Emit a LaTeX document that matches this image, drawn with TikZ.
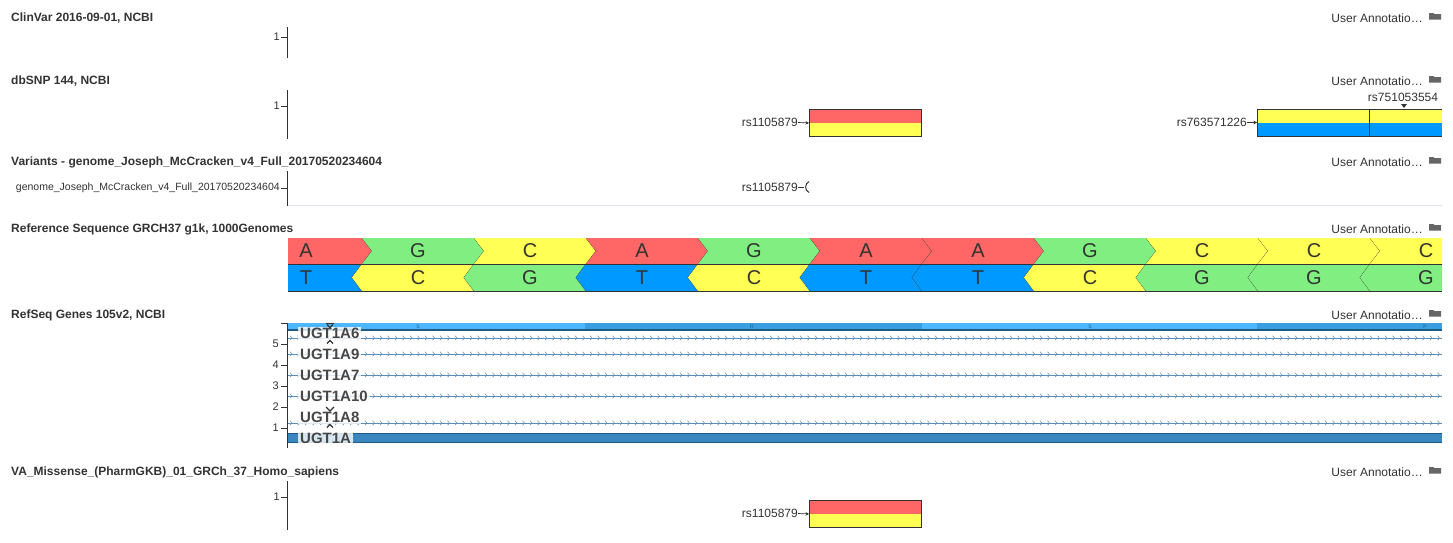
\documentclass[tikz,border=0pt]{standalone}
\usepackage{fontspec}
\setmainfont{Liberation Sans}
\usetikzlibrary{positioning,arrows.meta}

\definecolor{baseA}{HTML}{FF6666}
\definecolor{baseG}{HTML}{80EE80}
\definecolor{baseC}{HTML}{FFFF55}
\definecolor{baseT}{HTML}{0099FF}
\definecolor{inktext}{HTML}{333333}
\definecolor{geneline}{HTML}{5B8DB8}
\definecolor{genelight}{HTML}{4DB8FF}
\definecolor{genemid}{HTML}{3A9FE0}
\definecolor{genedark}{HTML}{3A87BF}
\definecolor{generim}{HTML}{1F5A85}
\definecolor{sepline}{HTML}{E2E2F0}
\definecolor{foldergray}{HTML}{666666}

\begin{document}
\begin{tikzpicture}[x=1pt,y=-1pt,
  tracktitle/.style={anchor=west, inner sep=0pt, font=\bfseries\fontsize{12}{14}\selectfont, text=inktext},
  annolabel/.style={anchor=east, inner sep=0pt, font=\fontsize{12}{14}\selectfont, text=inktext},
  axisline/.style={draw=inktext, line width=1pt},
  axnum/.style={anchor=east, inner sep=0pt, font=\fontsize{11}{13}\selectfont, text=inktext},
  snplabel/.style={anchor=east, inner sep=0pt, font=\fontsize{12}{14}\selectfont, text=inktext},
  snparrow/.style={draw=inktext, line width=0.7pt, -{Stealth[length=3.5pt,width=3.5pt]}},
  snpbox/.style 2 args={draw=inktext, line width=0.9pt, inner sep=0pt, anchor=north west,
    minimum width=112pt, minimum height=27pt,
    path picture={\fill[#1] (path picture bounding box.north west) rectangle (path picture bounding box.east);
                  \fill[#2] (path picture bounding box.west) rectangle (path picture bounding box.south east);}},
  baseletter/.style={font=\fontsize{20}{20}\selectfont, text=inktext, inner sep=0pt},
  genelabel/.style={anchor=west, inner xsep=2pt, inner ysep=1pt, font=\bfseries\fontsize{15}{15}\selectfont,
    text=black!72, fill=white, fill opacity=0.8, text opacity=1},
  marker/.style={draw=inktext, line width=1.3pt},
]

\fill[white] (0,0) rectangle (1453,542);
\useasboundingbox (0,0) rectangle (1453,542);

% User annotation links on the right
\foreach \y/\n in {18/uaclin,81/uasnp,162/uavar,229/uaref,315/uagene,472/uava}{
  \node[annolabel] (\n) at (1423,\y) {User Annotatio…};
  \fill[foldergray] (1429,\y+1.5) -- (1429,\y-5) -- (1433.5,\y-5) -- (1434.5,\y-3.8) -- (1441,\y-3.8) -- (1441,\y+1.5) -- cycle;
}

% ClinVar track
\node[tracktitle] (clinvar) at (11,18) {ClinVar 2016-09-01, NCBI};
\draw[axisline] (287,27) -- (287,58);
\draw[axisline] (281,37) -- (287,37);
\node[axnum] (clinvar1) at (280,37) {1};

% dbSNP track
\node[tracktitle] (dbsnp) at (11,81) {dbSNP 144, NCBI};
\draw[axisline] (287,90) -- (287,139);
\draw[axisline] (281,106) -- (287,106);
\node[axnum] (dbsnp1) at (280,106) {1};
\node[snpbox={baseA}{baseC}] (snpA) at (809,109) {};
\node[snplabel] (rs1105) at (798,122.5) {rs1105879};
\draw[snparrow] (rs1105.east) -- (snpA.west);
\fill[baseC] (1257,109) rectangle (1442,122.5);
\fill[baseT] (1257,122.5) rectangle (1442,136);
\draw[inktext, line width=0.9pt] (1442,109) -- (1257,109) -- (1257,136) -- (1442,136);
\draw[inktext, line width=0.9pt] (1369,109) -- (1369,136);
\coordinate (snpB) at (1257,122.5);
\node[snplabel] (rs7635) at (1247,122.5) {rs763571226};
\draw[snparrow] (rs7635.east) -- (snpB);
\node[snplabel, anchor=center] (rs7510) at (1403,97) {rs751053554};
\fill[inktext] (1401,104) -- (1407,104) -- (1404,108) -- cycle;

% Variants track
\node[tracktitle] (variants) at (11,162) {Variants - genome\_Joseph\_McCracken\_v4\_Full\_20170520234604};
\draw[axisline] (287,171) -- (287,206);
\draw[axisline] (281,188) -- (287,188);
\node[axnum, font=\fontsize{10.5}{12}\selectfont] (varsample) at (280,188) {genome\_Joseph\_McCracken\_v4\_Full\_20170520234604};
\draw[sepline, line width=1pt] (288,205.5) -- (1442,205.5);
\node[snplabel] (varrs) at (798,187) {rs1105879};
\draw[inktext, line width=0.8pt] (varrs.east) -- ++(6,0) coordinate (varend);
\draw[inktext, line width=1pt] (809,181.5) .. controls (804.5,184) and (804.5,190) .. (809,192.5);

% Reference sequence track
\node[tracktitle] (refseqseq) at (11,229) {Reference Sequence GRCH37 g1k, 1000Genomes};
\begin{scope}
\clip (288,238) rectangle (1442,292);
\foreach \fw/\rv [count=\k from 0] in {A/T,G/C,C/G,A/T,G/C,A/T,A/T,G/C,C/G,C/G,C/G}{
  \pgfmathsetmacro\a{250+112*\k}
  \fill[base\fw] (\a,238) -- (\a+112,238) -- (\a+122,251) -- (\a+112,264) -- (\a,264) -- (\a+10,251) -- cycle;
  \fill[base\rv] (\a,264) -- (\a+112,264) -- (\a+102,277.5) -- (\a+112,291) -- (\a,291) -- (\a-10,277.5) -- cycle;
  \draw[inktext, line width=0.6pt] (\a+112,238) -- (\a+122,251) -- (\a+112,264);
  \draw[inktext, line width=0.6pt] (\a+112,264) -- (\a+102,277.5) -- (\a+112,291);
  \node[baseletter] (fwd\k) at (\a+56,251) {\fw};
  \node[baseletter] (rev\k) at (\a+56,277.5) {\rv};
}
\draw[inktext, line width=1pt] (288,264) -- (1442,264);
\draw[inktext, line width=1pt] (288,291) -- (1442,291);
\end{scope}

% RefSeq genes track
\node[tracktitle] (refgenes) at (11,315) {RefSeq Genes 105v2, NCBI};
\draw[axisline] (287,323) -- (287,448);
\draw[axisline] (281,323) -- (287,323);
\foreach \y/\lab in {344/5,365/4,386/3,407/2,428/1}{
  \draw[axisline] (281,\y) -- (287,\y);
  \node[axnum] (gtick\lab) at (279,\y) {\lab};
}
% top exon bar
\fill[genelight] (288,323) rectangle (585,329.5);
\fill[genemid] (585,323) rectangle (922,329.5);
\fill[genelight] (922,323) rectangle (1257,329.5);
\fill[genemid] (1257,323) rectangle (1442,329.5);
\draw[generim, line width=1.2pt] (288,330) -- (1442,330);
\foreach \x/\s in {418/S,752/R,1090/S,1425/P}{
  \node[font=\fontsize{5}{5}\selectfont, text=generim, inner sep=0pt] (strand\x) at (\x,326.5) {\s};
}
% intron lines
\foreach \y in {338,354,375,396,423}{
  \draw[geneline, line width=0.7pt] (288,\y) -- (1442,\y);
  \foreach \x in {292,299.5,...,1440}{
    \draw[geneline, line width=0.5pt] (\x-2,\y-2.3) -- (\x,\y) -- (\x-2,\y+2.3);
  }
}
% bottom bar
\fill[genedark] (288,433) rectangle (1442,442);
\draw[generim, line width=0.8pt] (288,433) -- (1442,433);
\draw[generim, line width=0.8pt] (288,442) -- (1442,442);
% gene names
\node[genelabel] (ugt6) at (298,333.5) {UGT1A6};
\node[genelabel] (ugt9) at (298,354.5) {UGT1A9};
\node[genelabel] (ugt7) at (298,375.5) {UGT1A7};
\node[genelabel] (ugt10) at (298,396.5) {UGT1A10};
\node[genelabel] (ugt8) at (298,417.5) {UGT1A8};
\node[genelabel] (ugt) at (298,438) {UGT1A};
% splice markers
\draw[marker] (326,323.5) -- (334,323.5);
\draw[marker] (327,324.5) -- (330,327.5) -- (333,324.5);
\draw[marker] (327,343.5) -- (330,340.5) -- (333,343.5);
\draw[marker] (326,407) -- (330,411) -- (334,407);
\draw[marker] (327,427.5) -- (330,424.5) -- (333,427.5);

% PharmGKB missense track
\node[tracktitle] (vamiss) at (11,472) {VA\_Missense\_(PharmGKB)\_01\_GRCh\_37\_Homo\_sapiens};
\draw[axisline] (287,481) -- (287,530);
\draw[axisline] (281,497) -- (287,497);
\node[axnum] (vamiss1) at (280,497) {1};
\node[snpbox={baseA}{baseC}] (vabox) at (809,500) {};
\node[snplabel] (vars) at (798,513.5) {rs1105879};
\draw[snparrow] (vars.east) -- (vabox.west);

\end{tikzpicture}
\end{document}
